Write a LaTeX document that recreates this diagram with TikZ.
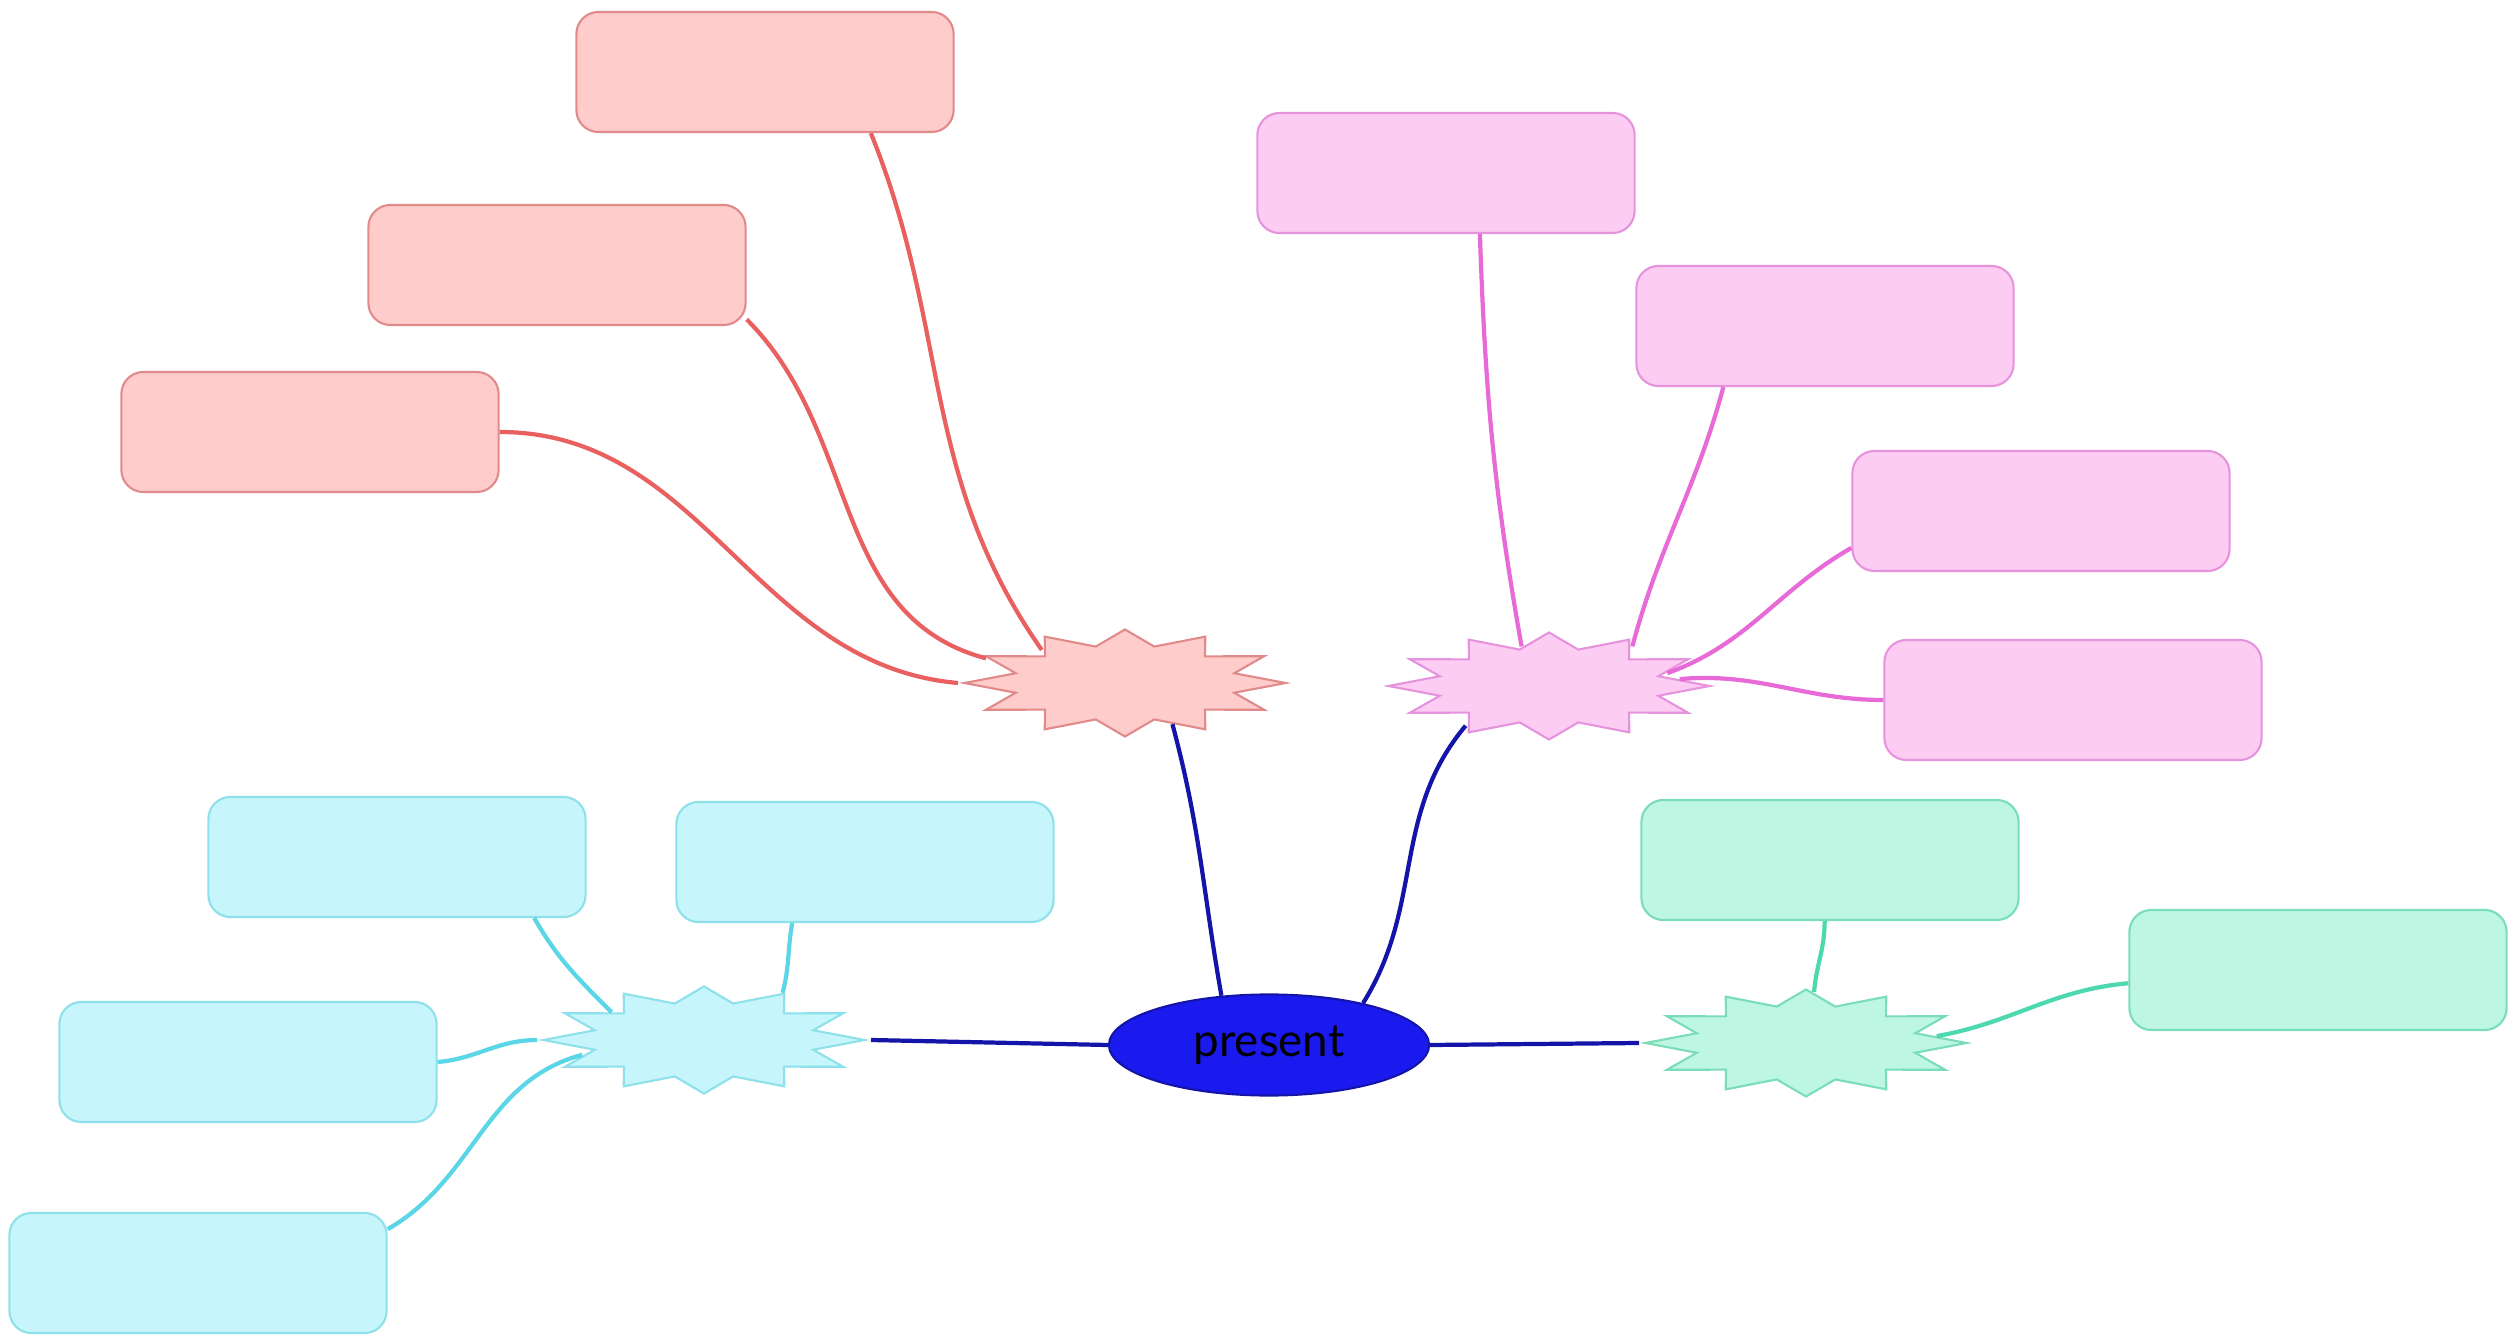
\documentclass[tikz,border=0pt]{standalone}
\usepackage{fontspec}
\setmainfont{Lato}
\usepackage{xcolor}
\usepackage{tikz}
\usetikzlibrary{shapes.geometric, positioning}

\definecolor{redfill}{HTML}{FFCCCC}
\definecolor{reddraw}{HTML}{E08A8A}
\definecolor{redline}{HTML}{E8605F}
\definecolor{pinkfill}{HTML}{FDCCF3}
\definecolor{pinkdraw}{HTML}{E693DE}
\definecolor{pinkline}{HTML}{E86AD6}
\definecolor{cyanfill}{HTML}{C6F6FB}
\definecolor{cyandraw}{HTML}{8EE0EA}
\definecolor{cyanline}{HTML}{5AD6E6}
\definecolor{greenfill}{HTML}{BDF7E4}
\definecolor{greendraw}{HTML}{7ADDB8}
\definecolor{greenline}{HTML}{4DD8B0}
\definecolor{rootfill}{HTML}{1A1AEE}
\definecolor{rootline}{HTML}{1414A8}

\begin{document}
\begin{tikzpicture}[
                x=0.01cm, y=-0.01cm,
                leaf/.style={rectangle, rounded corners=0.22cm, draw, line width=0.6pt, minimum width=3.77cm, minimum height=1.2cm},
                hub/.style={star, star points=12, star point ratio=1.42, draw, line width=0.6pt, minimum size=1.07cm, inner sep=0pt, transform shape, xscale=3},
                redtone/.style={fill=redfill, draw=reddraw},
                pinktone/.style={fill=pinkfill, draw=pinkdraw},
                cyantone/.style={fill=cyanfill, draw=cyandraw},
                greentone/.style={fill=greenfill, draw=greendraw},
                link/.style={line width=1.2pt}
            ]
                \useasboundingbox (0,0) rectangle (2509,1340);

                % Nodes
                \node[ellipse, fill=rootfill, draw=rootline, line width=0.6pt, minimum width=3.2cm, minimum height=1.01cm, font=\fontsize{13}{15}\selectfont] (root) at (1269,1045) {present};

                \node[hub, redtone] (red) at (1125,683) {};
                \node[hub, pinktone] (pink) at (1549,686) {};
                \node[hub, cyantone] (cyan) at (704,1040) {};
                \node[hub, greentone] (green) at (1806,1043) {};

                \node[leaf, redtone] (red1) at (765,72) {};
                \node[leaf, redtone] (red2) at (557,265) {};
                \node[leaf, redtone] (red3) at (310,432) {};

                \node[leaf, pinktone] (pink1) at (1446,173) {};
                \node[leaf, pinktone] (pink2) at (1825,326) {};
                \node[leaf, pinktone] (pink3) at (2041,511) {};
                \node[leaf, pinktone] (pink4) at (2073,700) {};

                \node[leaf, cyantone] (cyan1) at (397,857) {};
                \node[leaf, cyantone] (cyan2) at (865,862) {};
                \node[leaf, cyantone] (cyan3) at (248,1062) {};
                \node[leaf, cyantone] (cyan4) at (198,1273) {};

                \node[leaf, greentone] (green1) at (1830,860) {};
                \node[leaf, greentone] (green2) at (2318,970) {};

                % Edges
                \path[link, draw=rootline]
                    (root.134) edge[out=100, in=-75] (red.-69)
                    (root.24) edge[out=58, in=-130] (pink.-125)
                    (root.west) edge (cyan.east)
                    (root.east) edge (green.west);

                \path[link, draw=redline]
                    (red1.-30) edge[out=-68, in=125] (red.130)
                    (red2.-16) edge[out=-45, in=165] (red.152)
                    (red3.east) edge[out=0, in=175] (red.180);

                \path[link, draw=pinkline]
                    (pink1.-61) edge[out=-88, in=100] (pink.103)
                    (pink2.-149) edge[out=-105, in=75] (pink.55)
                    (pink3.-169) edge[out=-150, in=20] (pink.18)
                    (pink4.west) edge[out=180, in=5] (pink.9);

                \path[link, draw=cyanline]
                    (cyan1.-24) edge[out=-60, in=135] (cyan.138)
                    (cyan2.-140) edge[out=-100, in=75] (cyan.61)
                    (cyan3.east) edge[out=5, in=180] (cyan.180)
                    (cyan4.13) edge[out=30, in=195] (cyan.200);

                \path[link, draw=greenline]
                    (green1.-95) edge[out=-90, in=85] (green.87)
                    (green2.-176) edge[out=185, in=10] (green.9);
            \end{tikzpicture}
\end{document}
